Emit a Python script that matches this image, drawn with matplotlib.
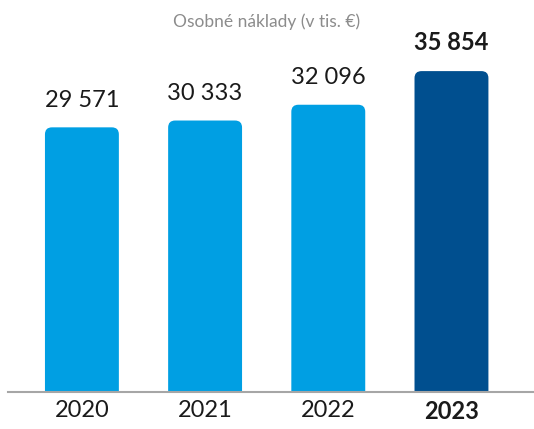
import matplotlib
matplotlib.use("Agg")
import matplotlib.pyplot as plt
from matplotlib.patches import FancyBboxPatch

years = ["2020", "2021", "2022", "2023"]
values = [29571, 30333, 32096, 35854]
value_labels = ["29 571", "30 333", "32 096", "35 854"]
highlight = [False, False, False, True]

light_blue = "#009fe3"
dark_blue = "#004f8f"

plt.rcParams["font.family"] = ["Lato", "DejaVu Sans"]

W, H = 534, 429
fig = plt.figure(figsize=(W / 100, H / 100), dpi=100)
ax = fig.add_axes([8 / W, 1 - 392 / H, 526 / W, 358 / H])
ax.set_xlim(-0.60, 3.67)
ax.set_ylim(0, 40000)

x = list(range(len(years)))
colors = [dark_blue if h else light_blue for h in highlight]
bars = ax.bar(x, values, width=0.6, color=colors)

# swap plain bars for ones with rounded top corners
ax_w_px = 526
ax_h_px = 358
x_per_px = (3.67 + 0.60) / ax_w_px
y_per_px = 40000 / ax_h_px
radius = 7 * x_per_px
for bar, c in zip(bars, colors):
    bx, bw, bh = bar.get_x(), bar.get_width(), bar.get_height()
    bar.set_visible(False)
    pad = 20 * y_per_px
    patch = FancyBboxPatch((bx, -pad), bw, bh + pad,
                           boxstyle=f"round,pad=0,rounding_size={radius}",
                           mutation_aspect=y_per_px / x_per_px,
                           facecolor=c, edgecolor="none", clip_on=True)
    ax.add_patch(patch)

for xi, v, lab, h in zip(x, values, value_labels, highlight):
    ax.annotate(lab, (xi, v), xytext=(0, 15), textcoords="offset points",
                ha="center", va="baseline", fontsize=17,
                fontweight="bold" if h else "normal", color="#1a1a1a")

ax.set_xticks(x)
ax.set_xticklabels(years, fontsize=17, color="#1a1a1a")
for t, h in zip(ax.get_xticklabels(), highlight):
    t.set_fontweight("bold" if h else "normal")
ax.tick_params(axis="x", length=0, pad=6)
ax.set_yticks([])

for s in ["top", "right", "left"]:
    ax.spines[s].set_visible(False)
ax.spines["bottom"].set_color("#a6a6a6")
ax.spines["bottom"].set_linewidth(1.5)

fig.text(0.5, 1 - 22 / H, "Osobné náklady (v tis. €)", ha="center", va="center",
         fontsize=12.5, color="#8c8c8c")

fig.savefig("out.png", dpi=100)
